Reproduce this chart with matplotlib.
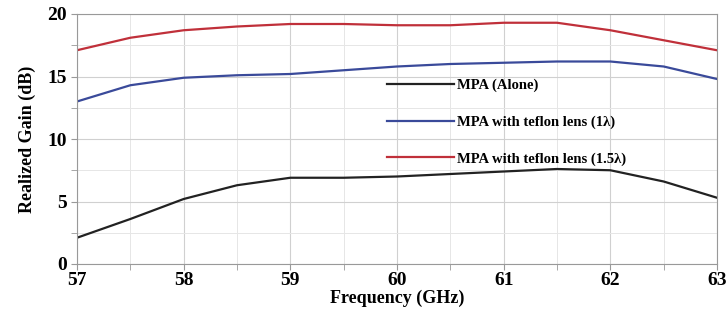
import numpy as np
import matplotlib.pyplot as plt
from matplotlib.ticker import MultipleLocator

freq = [57.0, 57.5, 58.0, 58.5, 59.0, 59.5, 60.0, 60.5, 61.0, 61.5, 62.0, 62.5, 63.0]
gain_alone = [2.1, 3.6, 5.2, 6.3, 6.9, 6.9, 7.0, 7.2, 7.4, 7.6, 7.5, 6.6, 5.3]
gain_lens_1 = [13.0, 14.3, 14.9, 15.1, 15.2, 15.5, 15.8, 16.0, 16.1, 16.2, 16.2, 15.8, 14.8]
gain_lens_15 = [17.1, 18.1, 18.7, 19.0, 19.2, 19.2, 19.1, 19.1, 19.3, 19.3, 18.7, 17.9, 17.1]

plt.rcParams['font.family'] = ['Liberation Serif', 'DejaVu Serif']
plt.rcParams['font.weight'] = 'bold'

fig = plt.figure(figsize=(7.27, 3.2), dpi=100)
ax = fig.add_axes([77 / 727, 1 - 264 / 320, 640 / 727, 250 / 320])

ax.plot(freq, gain_alone, color='#222222', lw=1.6, label='MPA (Alone)')
ax.plot(freq, gain_lens_1, color='#3a4a9a', lw=1.6, label='MPA with teflon lens (1\u03bb)')
ax.plot(freq, gain_lens_15, color='#c0303a', lw=1.6, label='MPA with teflon lens (1.5\u03bb)')

ax.set_xlim(57, 63)
ax.set_ylim(0, 20)
ax.xaxis.set_major_locator(MultipleLocator(1))
ax.xaxis.set_minor_locator(MultipleLocator(0.5))
ax.yaxis.set_major_locator(MultipleLocator(5))
ax.yaxis.set_minor_locator(MultipleLocator(2.5))
ax.grid(which='major', color='#d0d0d0', lw=0.8)
ax.grid(which='minor', color='#e6e6e6', lw=0.7)
ax.set_axisbelow(True)
for s in ax.spines.values():
    s.set_color('#999999')
ax.tick_params(which='both', colors='#999999', labelcolor='black', labelsize=14, length=4)
ax.tick_params(axis='x', pad=2)
for lbl in ax.get_xticklabels() + ax.get_yticklabels():
    lbl.set_fontweight('bold')

ax.set_xlabel('Frequency (GHz)', fontsize=13, fontweight='bold', labelpad=0)
ax.set_ylabel('Realized Gain (dB)', fontsize=13, fontweight='bold', labelpad=8)

leg = ax.legend(loc='upper left', bbox_to_anchor=(0.475, 0.765), frameon=False,
                prop={'family': 'Liberation Serif', 'weight': 'bold', 'size': 10.5},
                handlelength=4.6, handletextpad=0.2, labelspacing=1.6,
                borderaxespad=0)

fig.savefig('out.png', dpi=100)
